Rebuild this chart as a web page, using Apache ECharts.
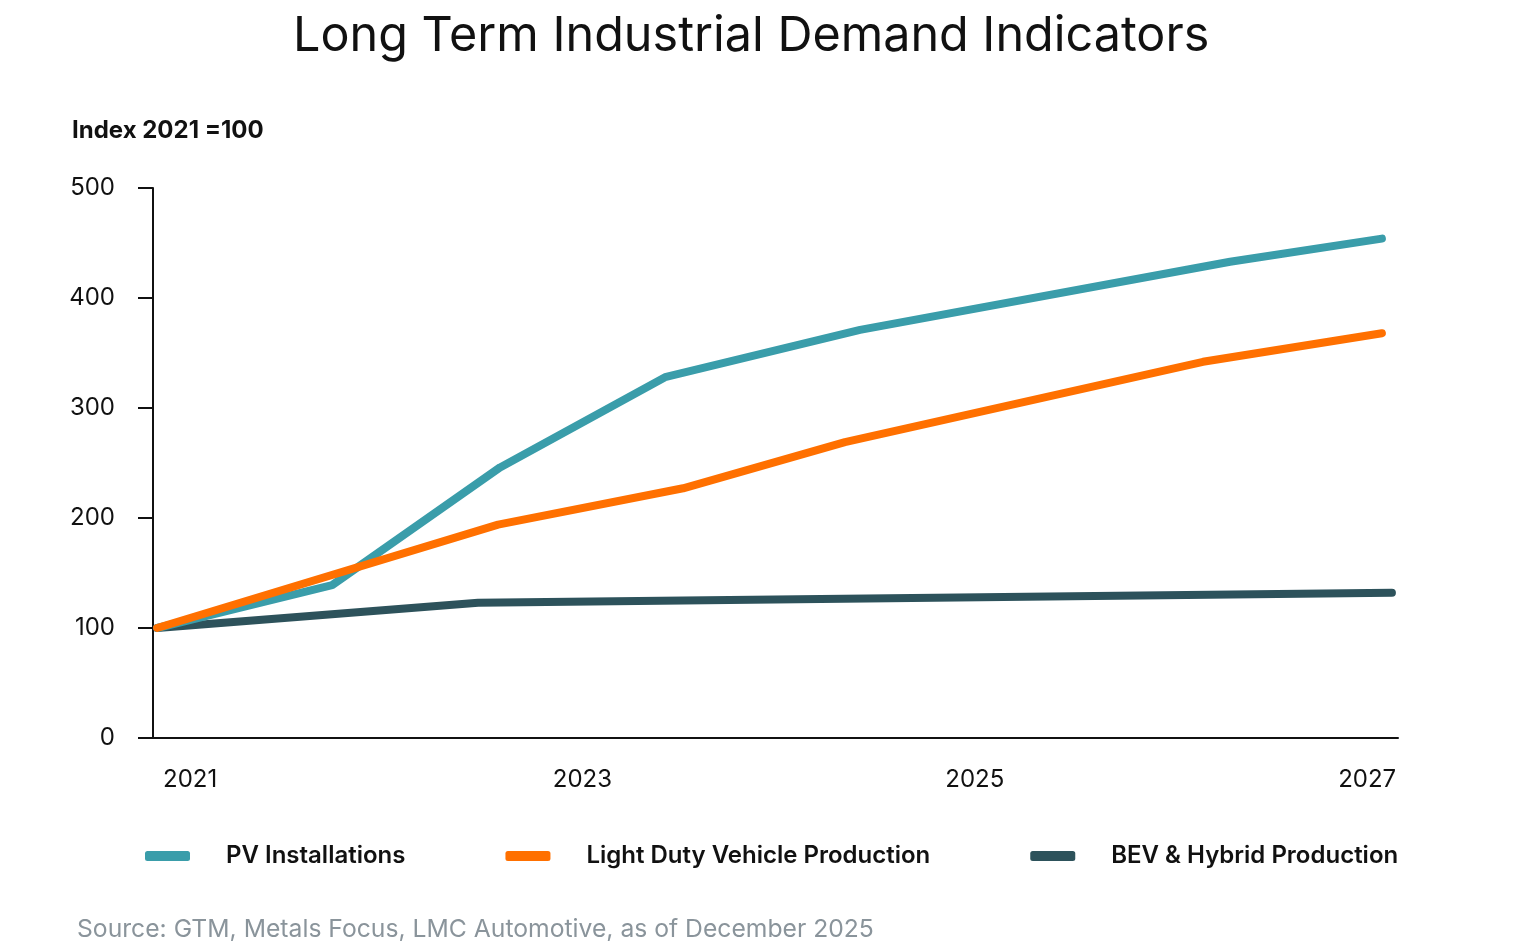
<!DOCTYPE html>
<html>
<head>
<meta charset="utf-8">
<script src="https://cdn.jsdelivr.net/npm/echarts@6/dist/echarts.min.js"></script>
<style>
html,body{margin:0;padding:0;background:#fff;}
#chart{width:1514px;height:946px;}
</style>
</head>
<body>
<div id="chart"></div>
<script>
// Data (x in fractional years, y = index 2021 = 100)
const seriesNames = ['PV Installations', 'Light Duty Vehicle Production', 'BEV & Hybrid Production'];
const pvX = [2020.832, 2021.724, 2022.580, 2023.421, 2024.415, 2026.301, 2027.075];
const pvY = [100, 139, 246, 328, 371, 433, 454];
const ldvX = [2020.832, 2022.570, 2023.513, 2024.338, 2026.163, 2027.075];
const ldvY = [100, 194, 227, 269, 342, 368];
const bevX = [2020.832, 2022.468, 2027.126];
const bevY = [100, 123, 132];
const xTickLabels = [2021, 2023, 2025, 2027];
const yTicks = [0, 100, 200, 300, 400, 500];

const zip = (xs, ys) => xs.map((x, i) => [x, ys[i]]);
const colors = ['#3a9daa', '#ff7000', '#2d525b'];
const font = 'Inter, "Noto Sans", sans-serif';

const chart = echarts.init(document.getElementById('chart'));
chart.setOption({
  animation: false,
  backgroundColor: '#fff',
  title: {
    text: 'Long Term Industrial Demand Indicators',
    left: 288,
    top: 7,
    textStyle: { fontFamily: font, fontSize: 48.5, fontWeight: 400, color: '#111' }
  },
  graphic: [
    { type: 'text', left: 72, top: 119,
      style: { text: 'Index 2021 =100', font: '700 24px ' + font, fill: '#111' } },
    { type: 'text', left: 77, top: 917,
      style: { text: 'Source: GTM, Metals Focus, LMC Automotive, as of December 2025', font: '400 24.7px ' + font, fill: '#8a949b' } }
  ],
  legend: {
    data: seriesNames,
    left: 140,
    top: 839,
    itemWidth: 45,
    itemHeight: 10,
    itemGap: 100,
    icon: 'roundRect',
    textStyle: { fontFamily: font, fontSize: 24, fontWeight: 600, color: '#111', padding: [0, 0, 0, 31] }
  },
  grid: { left: 153, right: 116, top: 188, bottom: 208, containLabel: false },
  xAxis: {
    type: 'value',
    min: 2020.811,
    max: 2027.157,
    splitLine: { show: false },
    axisLine: { show: true, lineStyle: { color: '#111', width: 2 } },
    axisTick: { show: false },
    axisLabel: {
      customValues: xTickLabels,
      formatter: v => String(Math.round(v)),
      margin: 30,
      fontFamily: font, fontSize: 24, color: '#111'
    }
  },
  yAxis: {
    type: 'value',
    min: 0,
    max: 500,
    interval: 100,
    splitLine: { show: false },
    axisLine: { show: true, lineStyle: { color: '#111', width: 2 } },
    axisTick: { show: true, length: 15, lineStyle: { color: '#111', width: 2 } },
    axisLabel: { margin: 38, fontFamily: font, fontSize: 24, color: '#111',
      customValues: yTicks }
  },
  series: [
    { name: seriesNames[0], type: 'line', data: zip(pvX, pvY), showSymbol: false, symbol: 'none', z: 3,
      itemStyle: { color: colors[0] },
      lineStyle: { color: colors[0], width: 8, cap: 'round', join: 'round' } },
    { name: seriesNames[1], type: 'line', data: zip(ldvX, ldvY), showSymbol: false, symbol: 'none', z: 4,
      itemStyle: { color: colors[1] },
      lineStyle: { color: colors[1], width: 8, cap: 'round', join: 'round' } },
    { name: seriesNames[2], type: 'line', data: zip(bevX, bevY), showSymbol: false, symbol: 'none', z: 2,
      itemStyle: { color: colors[2] },
      lineStyle: { color: colors[2], width: 8, cap: 'round', join: 'round' } }
  ]
});
</script>
</body>
</html>
